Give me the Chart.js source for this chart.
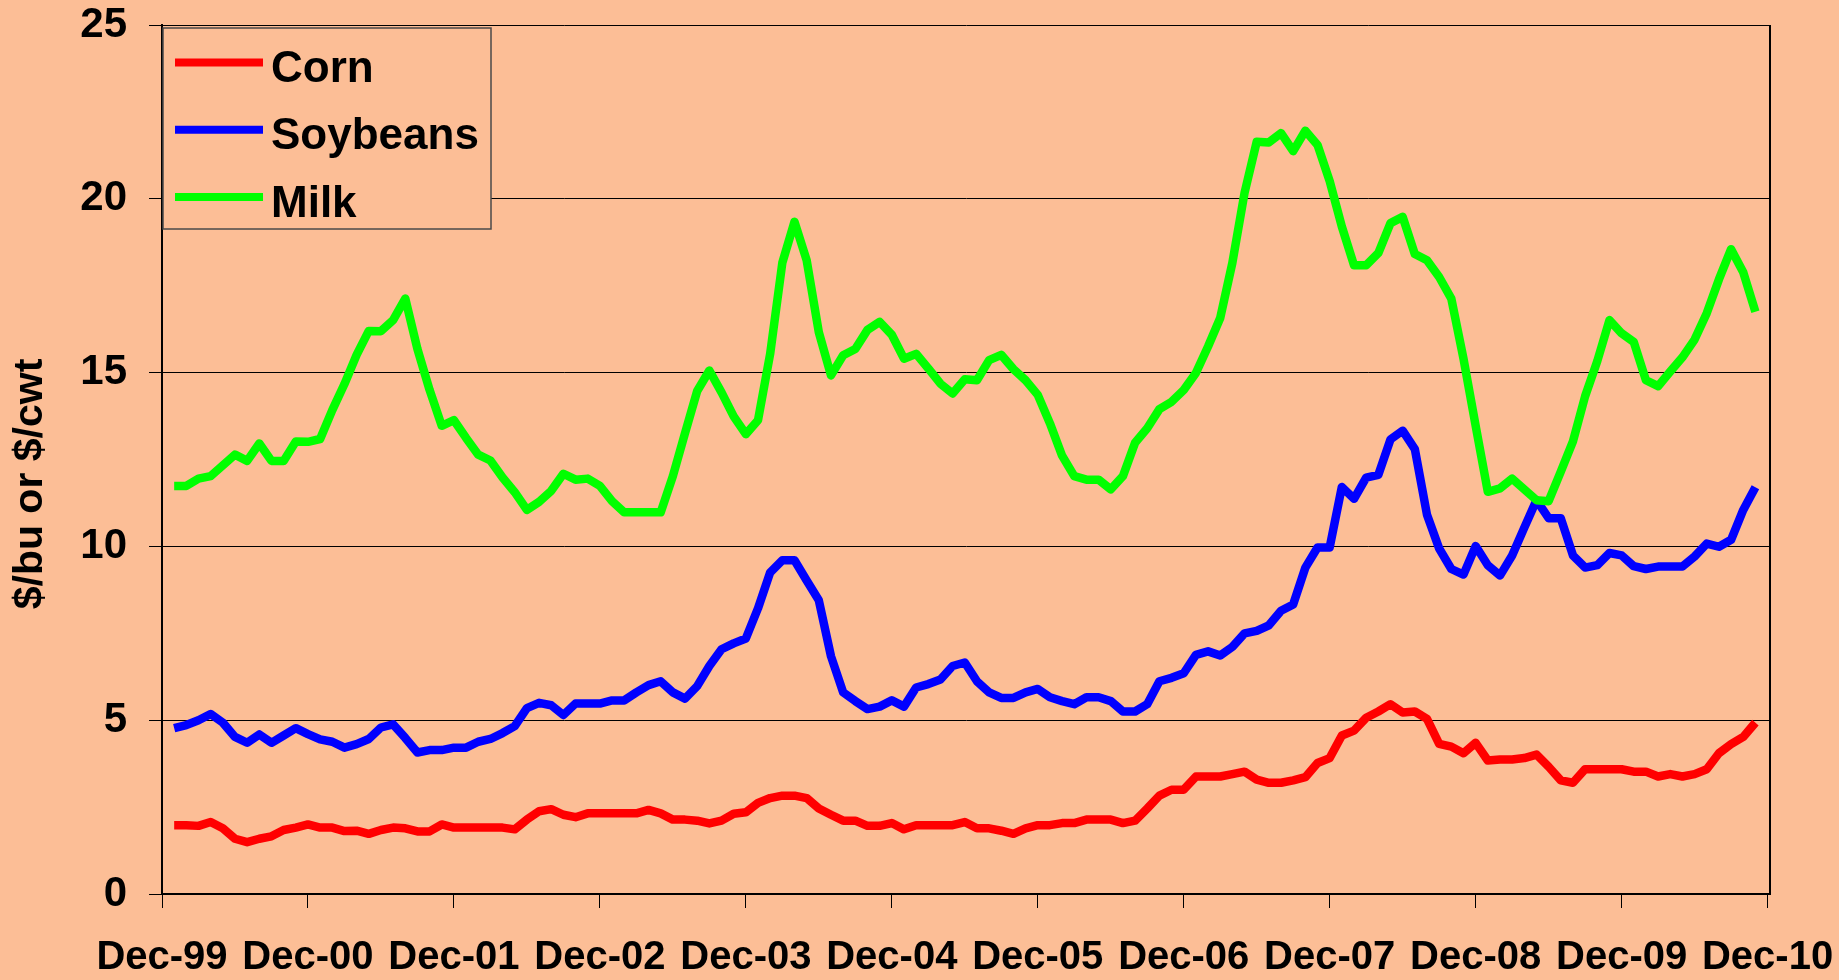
<!DOCTYPE html>
<html>
<head>
<meta charset="utf-8">
<script src="https://cdn.jsdelivr.net/npm/chart.js@4.4.1/dist/chart.umd.min.js"></script>
<style>
    html, body { margin: 0; padding: 0; background: #fcbe96; }
    #wrap { width: 1839px; height: 980px; }
</style>
</head>
<body>
<div id="wrap"><canvas id="priceChart" width="1839" height="980"></canvas></div>
<script>
// Monthly prices, Jan-00 .. Nov-10 (x = months after Dec-99)
const corn = [
    1.98, 1.98, 1.96, 2.07, 1.89, 1.59, 1.49, 1.59, 1.66, 1.84, 1.91, 2.00,
    1.91, 1.91, 1.81, 1.82, 1.73, 1.84, 1.91, 1.89, 1.80, 1.80, 2.00, 1.91,
    1.91, 1.91, 1.91, 1.91, 1.86, 2.14, 2.38, 2.44, 2.28, 2.21, 2.32, 2.32,
    2.32, 2.32, 2.32, 2.42, 2.32, 2.14, 2.14, 2.11, 2.03, 2.11, 2.31, 2.35,
    2.62, 2.76, 2.83, 2.83, 2.76, 2.46, 2.28, 2.11, 2.11, 1.96, 1.96, 2.04,
    1.86, 1.98, 1.98, 1.98, 1.98, 2.07, 1.89, 1.89, 1.82, 1.73, 1.89, 1.98,
    1.98, 2.04, 2.04, 2.14, 2.14, 2.14, 2.04, 2.11, 2.46, 2.83, 3.00, 3.00,
    3.38, 3.38, 3.38, 3.45, 3.52, 3.29, 3.20, 3.20, 3.27, 3.36, 3.77, 3.91,
    4.56, 4.70, 5.07, 5.25, 5.46, 5.22, 5.25, 5.04, 4.32, 4.24, 4.05, 4.35,
    3.84, 3.87, 3.87, 3.91, 4.01, 3.66, 3.27, 3.20, 3.59, 3.59, 3.59, 3.59,
    3.52, 3.52, 3.38, 3.45, 3.38, 3.45, 3.59, 4.05, 4.31, 4.52, 4.93
];
const soybeans = [
    4.77, 4.86, 5.00, 5.18, 4.93, 4.52, 4.35, 4.59, 4.35, 4.56, 4.77, 4.60,
    4.45, 4.38, 4.21, 4.31, 4.46, 4.79, 4.88, 4.49, 4.07, 4.14, 4.14, 4.21,
    4.21, 4.38, 4.46, 4.63, 4.83, 5.35, 5.50, 5.43, 5.15, 5.48, 5.48, 5.48,
    5.57, 5.57, 5.80, 6.01, 6.12, 5.80, 5.62, 5.98, 6.56, 7.04, 7.21, 7.35,
    8.22, 9.25, 9.60, 9.60, 9.02, 8.45, 6.84, 5.80, 5.55, 5.32, 5.39, 5.57,
    5.39, 5.94, 6.04, 6.17, 6.56, 6.66, 6.12, 5.80, 5.64, 5.64, 5.80, 5.90,
    5.66, 5.55, 5.46, 5.66, 5.66, 5.55, 5.25, 5.25, 5.46, 6.12, 6.22, 6.35,
    6.88, 6.98, 6.86, 7.11, 7.50, 7.57, 7.73, 8.15, 8.33, 9.39, 9.97, 9.97,
    11.71, 11.37, 11.98, 12.06, 13.08, 13.33, 12.80, 10.91, 9.94, 9.35, 9.19, 10.01,
    9.46, 9.16, 9.74, 10.54, 11.33, 10.81, 10.81, 9.74, 9.39, 9.46, 9.81, 9.74,
    9.43, 9.35, 9.42, 9.42, 9.42, 9.71, 10.08, 9.99, 10.19, 11.05, 11.70
];
const milk = [
    11.74, 11.74, 11.95, 12.02, 12.33, 12.64, 12.46, 12.96, 12.46, 12.46, 13.02, 13.01,
    13.09, 13.92, 14.67, 15.51, 16.20, 16.19, 16.51, 17.13, 15.68, 14.50, 13.47, 13.63,
    13.12, 12.64, 12.47, 11.98, 11.56, 11.05, 11.28, 11.60, 12.09, 11.92, 11.95, 11.74,
    11.30, 10.98, 10.98, 10.98, 10.98, 12.02, 13.26, 14.47, 15.06, 14.43, 13.74, 13.23,
    13.63, 15.54, 18.16, 19.34, 18.23, 16.16, 14.92, 15.50, 15.68, 16.23, 16.46, 16.09,
    15.40, 15.54, 15.12, 14.68, 14.40, 14.81, 14.78, 15.36, 15.51, 15.10, 14.78, 14.36,
    13.54, 12.61, 12.02, 11.92, 11.92, 11.64, 12.02, 12.98, 13.40, 13.95, 14.16, 14.50,
    14.99, 15.75, 16.57, 18.16, 20.17, 21.64, 21.62, 21.89, 21.37, 21.96, 21.55, 20.51,
    19.20, 18.09, 18.09, 18.44, 19.30, 19.48, 18.41, 18.23, 17.75, 17.13, 15.40, 13.47,
    11.57, 11.67, 11.95, 11.64, 11.33, 11.30, 12.15, 13.02, 14.32, 15.33, 16.51, 16.13,
    15.88, 14.78, 14.61, 15.03, 15.44, 15.95, 16.71, 17.68, 18.55, 17.89, 16.75
];

// x-axis year ticks (months after Dec-99) and their labels
const tickMonths = [0, 12, 24, 36, 48, 60, 72, 84, 96, 108, 120, 132];
const tickLabels = ['Dec-99', 'Dec-00', 'Dec-01', 'Dec-02', 'Dec-03', 'Dec-04',
                    'Dec-05', 'Dec-06', 'Dec-07', 'Dec-08', 'Dec-09', 'Dec-10'];
const seriesNames = ['Corn', 'Soybeans', 'Milk'];
const seriesColors = ['#ff0000', '#0000ff', '#00ff00'];
const yTitle = '$/bu or $/cwt';

const BG = '#fcbe96';
const FONT = '"Liberation Sans", Arial, Helvetica, sans-serif';

const toPoints = arr => arr.map((v, i) => ({ x: i + 1, y: v }));

// drop the label overhang paddings so the plot area stays where the layout puts it
const noScalePadding = scale => {
    scale.paddingTop = 0;
    scale.paddingBottom = 0;
    scale.paddingLeft = 0;
    scale.paddingRight = 0;
};

// background, right border, boxed legend and rotated y title
const decorations = {
    id: 'decorations',
    beforeDraw(chart) {
        const ctx = chart.ctx;
        ctx.save();
        ctx.fillStyle = BG;
        ctx.fillRect(0, 0, chart.width, chart.height);
        ctx.restore();
    },
    afterDraw(chart) {
        const ctx = chart.ctx;
        const area = chart.chartArea;
        ctx.save();

        // plot border on the right
        ctx.strokeStyle = '#000';
        ctx.lineWidth = 2;
        ctx.beginPath();
        ctx.moveTo(area.right, area.top);
        ctx.lineTo(area.right, area.bottom);
        ctx.stroke();

        // legend box
        const bx = area.left + 1, by = area.top + 3;
        ctx.fillStyle = BG;
        ctx.fillRect(bx, by, 328, 201);
        ctx.strokeStyle = '#4a4a4a';
        ctx.lineWidth = 1.5;
        ctx.strokeRect(bx, by, 328, 201);

        ctx.font = 'bold 44px ' + FONT;
        ctx.textAlign = 'left';
        ctx.textBaseline = 'alphabetic';
        chart.data.datasets.forEach((ds, i) => {
            const base = by + 54 + i * 67.3;
            ctx.strokeStyle = ds.borderColor;
            ctx.lineWidth = 8;
            ctx.lineCap = 'butt';
            ctx.beginPath();
            ctx.moveTo(bx + 12, base - 19.5);
            ctx.lineTo(bx + 100, base - 19.5);
            ctx.stroke();
            ctx.fillStyle = '#000';
            ctx.fillText(ds.label, bx + 108, base);
        });

        // y-axis title
        ctx.translate(31, 484);
        ctx.rotate(-Math.PI / 2);
        ctx.font = 'bold 41px ' + FONT;
        ctx.textAlign = 'center';
        ctx.textBaseline = 'middle';
        ctx.fillStyle = '#000';
        ctx.fillText(yTitle, 0, 0);
        ctx.restore();
    }
};

const series = [corn, soybeans, milk];

new Chart(document.getElementById('priceChart'), {
    type: 'line',
    data: {
        datasets: series.map((arr, i) => ({
            label: seriesNames[i],
            data: toPoints(arr),
            borderColor: seriesColors[i],
            backgroundColor: seriesColors[i],
            borderWidth: 8.5,
            borderJoinStyle: 'round',
            pointRadius: 0,
            tension: 0,
            fill: false,
            order: 2 - i
        }))
    },
    options: {
        responsive: false,
        animation: false,
        layout: { padding: { top: 25, right: 69, bottom: 0, left: 0 } },
        plugins: {
            legend: { display: false },
            tooltip: { enabled: false }
        },
        scales: {
            x: {
                type: 'linear',
                min: 0,
                max: 132.2,
                afterBuildTicks: axis => {
                    axis.ticks = tickMonths.map(v => ({ value: v }));
                },
                afterFit: scale => {
                    scale.height = 86;
                    noScalePadding(scale);
                },
                grid: {
                    drawOnChartArea: false,
                    drawTicks: true,
                    tickLength: 14,
                    color: '#000',
                    lineWidth: 1
                },
                border: { display: true, color: '#000', width: 2 },
                ticks: {
                    autoSkip: false,
                    maxRotation: 0,
                    padding: 26,
                    color: '#000',
                    font: { family: FONT, size: 40, weight: 'bold' },
                    callback: v => tickLabels[tickMonths.indexOf(v)]
                }
            },
            y: {
                min: 0,
                max: 25,
                afterFit: scale => {
                    scale.width = 162;
                    noScalePadding(scale);
                },
                grid: {
                    drawTicks: true,
                    tickLength: 13,
                    color: '#000',
                    lineWidth: 1
                },
                border: { display: true, color: '#000', width: 2 },
                ticks: {
                    stepSize: 5,
                    padding: 22,
                    color: '#000',
                    font: { family: FONT, size: 42, weight: 'bold', lineHeight: 1 }
                }
            }
        }
    },
    plugins: [decorations]
});
</script>
</body>
</html>
